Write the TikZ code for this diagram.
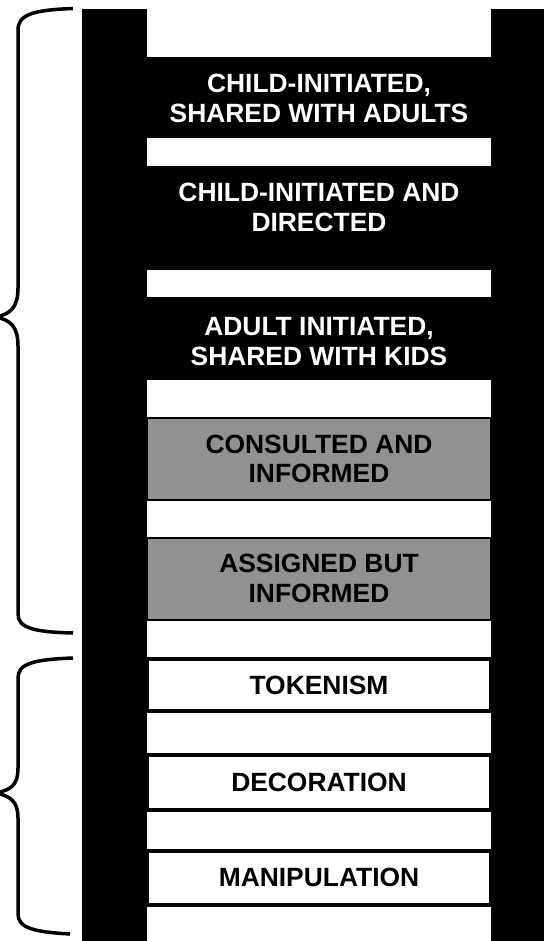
\documentclass[tikz,border=0pt]{standalone}
\usepackage{fontspec}
\setmainfont{Liberation Sans}
\definecolor{rungray}{RGB}{145,145,145}
\begin{document}
\begin{tikzpicture}[x=1pt,y=-1pt,
  rail/.style={fill=black,draw=none},
  darkrung/.style={fill=black,draw=none},
  grayrung/.style={fill=rungray,draw=black,line width=2pt},
  whiterung/.style={fill=white,draw=black,line width=4pt},
  lbl/.style={font=\fontsize{26.4}{29.5}\selectfont\bfseries,align=center,inner sep=0pt},
  wlbl/.style={lbl,text=white},
  blbl/.style={lbl,text=black},
  brace/.style={draw=black,line width=3.5pt,line cap=butt,line join=round}]
\useasboundingbox (0,0) rectangle (544,941);
\fill[white] (0,0) rectangle (544,941);
% rungs
\fill[darkrung] (147,57) rectangle (491,138);
\fill[darkrung] (147,166) rectangle (491,270);
\fill[darkrung] (147,297) rectangle (491,380);
\draw[grayrung] (147,418) rectangle (491,500);
\draw[grayrung] (147,538) rectangle (491,620);
\draw[whiterung] (147,658.5) rectangle (491,711);
\draw[whiterung] (147,754.5) rectangle (491,809.5);
\draw[whiterung] (147,850.5) rectangle (491,905);
% rails
\fill[rail] (82,9) rectangle (147,941);
\fill[rail] (491,9) rectangle (544,941);
% labels
\node[wlbl] (r1) at (319,98.5) {CHILD-INITIATED,\\SHARED WITH ADULTS};
\node[wlbl] (r2) at (319,207.5) {CHILD-INITIATED AND\\DIRECTED};
\node[wlbl] (r3) at (319,341.5) {ADULT INITIATED,\\SHARED WITH KIDS};
\node[blbl] (r4) at (319,459) {CONSULTED AND\\INFORMED};
\node[blbl] (r5) at (319,578.5) {ASSIGNED BUT\\INFORMED};
\node[blbl] (r6) at (319,685) {TOKENISM};
\node[blbl] (r7) at (319,782) {DECORATION};
\node[blbl] (r8) at (319,877.5) {MANIPULATION};
% braces
\draw[brace] (73,8.5) .. controls (32,10) and (18,15) .. (18,30)
  -- (18,288) .. controls (18,308) and (10,314) .. (-4,317)
  .. controls (10,320) and (18,326) .. (18,346)
  -- (18,614) .. controls (18,628) and (34,632) .. (73,633);
\draw[brace] (73,658) .. controls (32,659.5) and (18,664) .. (18,678)
  -- (18,768) .. controls (18,786) and (10,790) .. (-4,793)
  .. controls (10,796) and (18,801) .. (18,818)
  -- (18,914) .. controls (18,928) and (34,932) .. (70,934);
\end{tikzpicture}
\end{document}
